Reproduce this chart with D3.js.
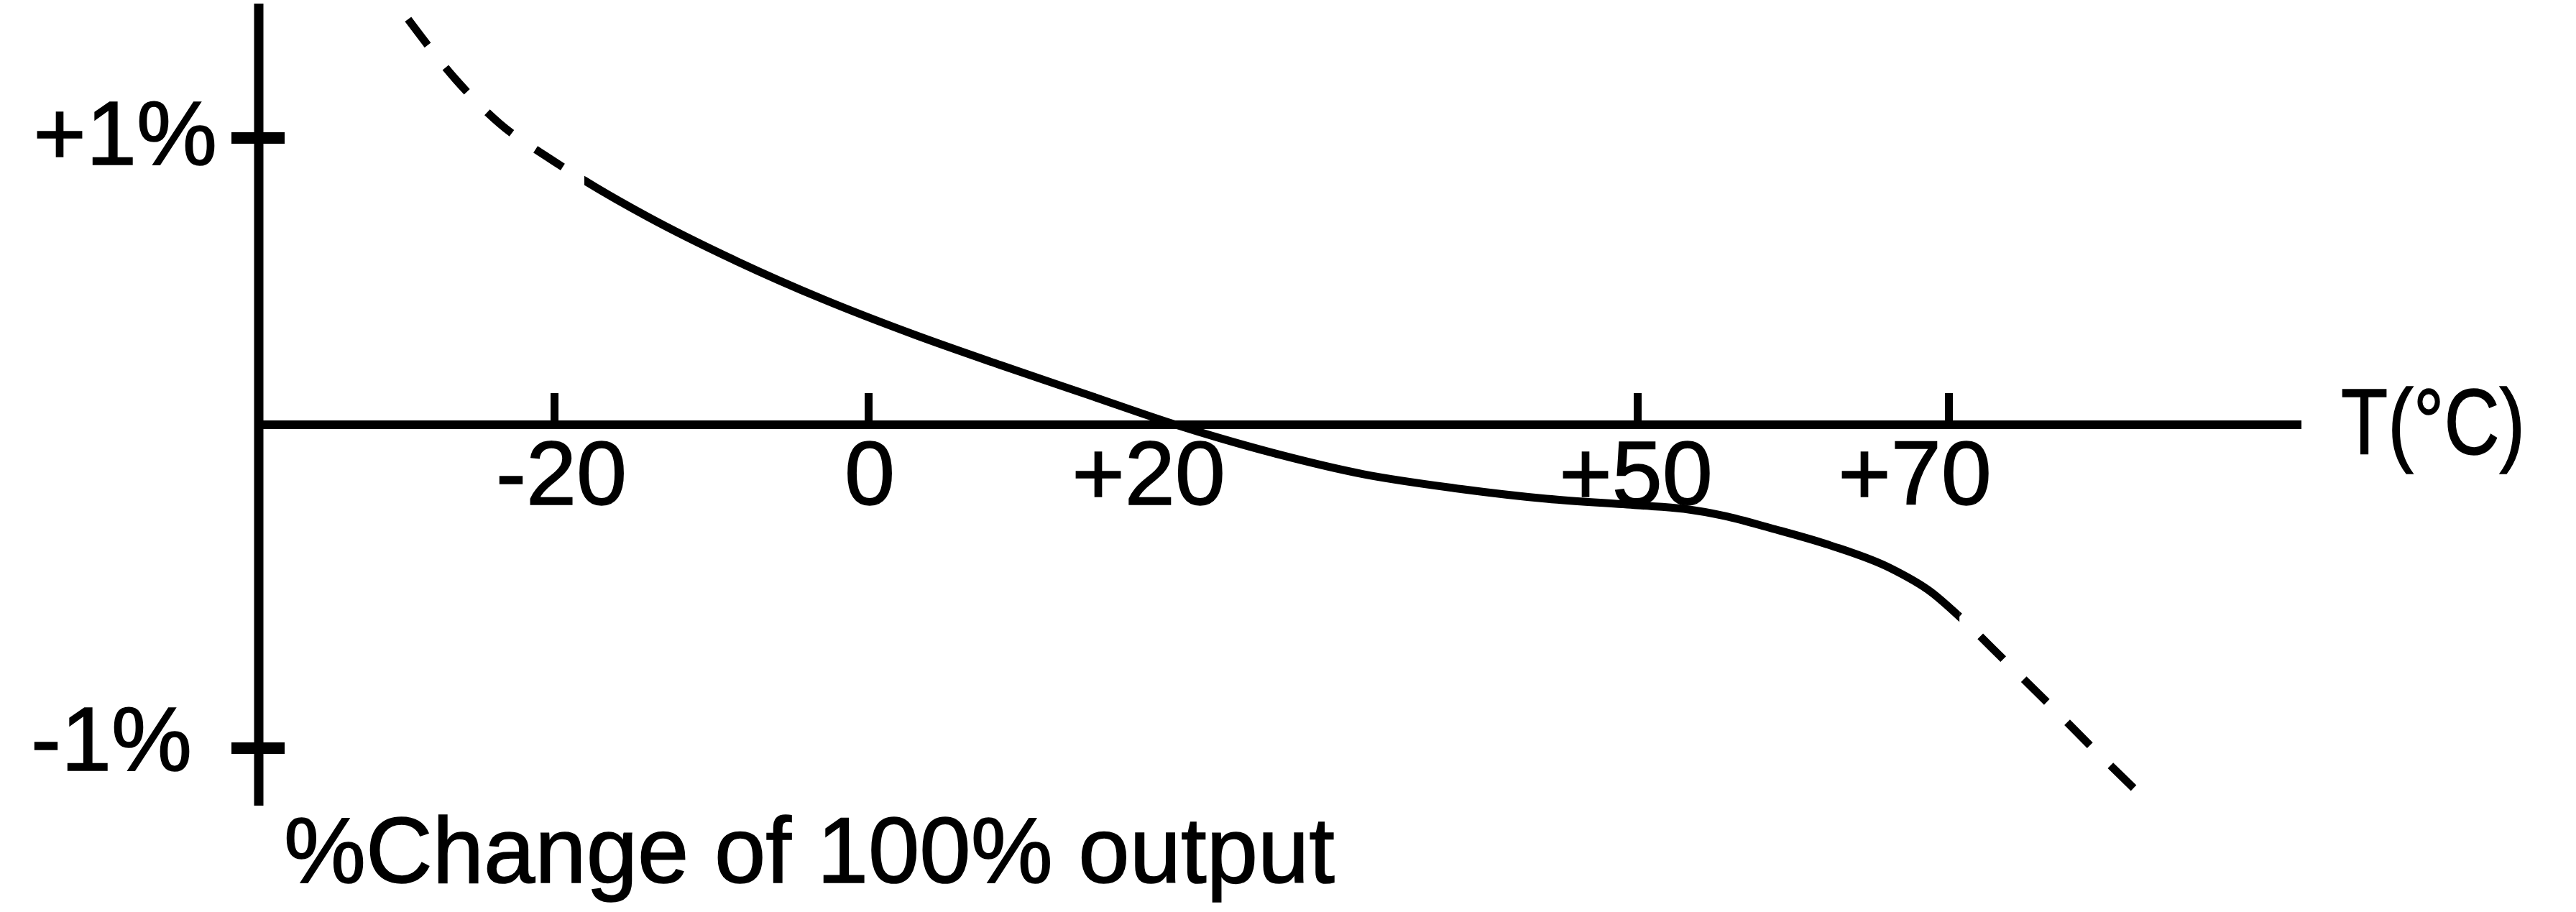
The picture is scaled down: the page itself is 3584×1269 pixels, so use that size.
<!DOCTYPE html>
<html>
<head>
<meta charset="utf-8">
<script src="https://cdn.jsdelivr.net/npm/d3@7"></script>
<style>
  html, body { margin: 0; padding: 0; background: #fff; }
  svg { display: block; }
  text { font-family: "Liberation Sans", Arial, Helvetica, sans-serif; fill: #000; stroke: #000; stroke-width: 1.6px; white-space: pre; }
</style>
</head>
<body>
<script>
// ---- data ----
const xTickValues = [-20, 0, 20, 50, 70];
const xTickLabels = ["-20", "0", "+20", "+50", "+70"];
const xTickMarks  = [-20, 0, 50, 70];          // +20 has no tick mark in the original
const yTickValues = [1, -1];
const yTickLabels = ["+1%", "-1% "];
const xAxisTitle  = "T(°C)";
const yAxisTitle  = "%Change of 100% output";

// dashed extrapolation, cold side
const coldT = [-29.3, -26.25, -23.46, -20.25, -18.08];
const coldV = [1.414, 1.203, 1.050, 0.927, 0.852];
// solid measured region
const solidT = [-18.08, -14.0, -8.4, -2.8, 2.9, 8.6, 14.35, 20.0, 22.9, 26.3, 32.2, 38.1, 44.1, 50.0, 53.0, 55.6, 58.6, 62.4, 66.2, 68.9, 70.7];
const solidV = [0.852, 0.724, 0.571, 0.436, 0.316, 0.208, 0.103, 0.0, -0.042, -0.087, -0.153, -0.196, -0.229, -0.249, -0.260, -0.282, -0.320, -0.373, -0.442, -0.518, -0.593];
// dashed extrapolation, hot side
const hotT = [70.7, 73.65, 76.42, 79.19, 82.06];
const hotV = [-0.593, -0.731, -0.862, -0.996, -1.131];

// ---- layout ----
const W = 3584, H = 1269;
const yAxisX = 360, yAxisTop = 5, yAxisBottom = 1121;
const xAxisRight = 3202;
const dash = 45, gap = 40;

const svg = d3.select("body").append("svg").attr("width", W).attr("height", H);

const x = d3.scaleLinear().domain([-20, 0, 50, 70]).range([771, 1208, 2278, 2711]);
const y = d3.scaleLinear().domain([-1, 0, 1]).range([1041, 591, 192]);

// axes lines
svg.append("line")
  .attr("x1", yAxisX).attr("x2", yAxisX)
  .attr("y1", yAxisTop).attr("y2", yAxisBottom)
  .attr("stroke", "#000").attr("stroke-width", 13);

svg.append("line")
  .attr("x1", yAxisX - 6).attr("x2", xAxisRight)
  .attr("y1", y(0)).attr("y2", y(0))
  .attr("stroke", "#000").attr("stroke-width", 12);

// x ticks (upward)
const xAxis = d3.axisBottom(x).tickValues(xTickMarks).tickSize(-44).tickSizeOuter(0).tickFormat("");
const gx = svg.append("g").attr("transform", `translate(0,${y(0)})`).call(xAxis);
gx.select(".domain").remove();
gx.selectAll(".tick line").attr("stroke", "#000").attr("stroke-width", 11);

// x tick labels (hand-nudged like the original)
const xLabelNudge = { "-20": 10, "0": 2, "20": -38, "50": -2, "70": -47 };
svg.append("g").selectAll("text")
  .data(xTickValues)
  .join("text")
  .attr("x", d => x(d) + xLabelNudge[String(d)])
  .attr("y", 702)
  .attr("text-anchor", "middle")
  .attr("font-size", 126)
  .text((d, i) => xTickLabels[i]);

// y ticks
svg.append("g").selectAll("line")
  .data(yTickValues)
  .join("line")
  .attr("x1", 322).attr("x2", 396)
  .attr("y1", d => y(d)).attr("y2", d => y(d))
  .attr("stroke", "#000").attr("stroke-width", 16);

svg.append("g").selectAll("text")
  .data(yTickValues)
  .join("text")
  .attr("x", 302)
  .attr("y", d => y(d) + (d > 0 ? 37 : 31))
  .attr("text-anchor", "end")
  .attr("font-size", 126)
  .text((d, i) => yTickLabels[i]);

// axis titles
svg.append("text")
  .attr("x", 3257).attr("y", 632)
  .attr("font-size", 130)
  .attr("textLength", 256)
  .attr("lengthAdjust", "spacingAndGlyphs")
  .text(xAxisTitle);

svg.append("text")
  .attr("x", 395).attr("y", 1228)
  .attr("font-size", 130)
  .attr("textLength", 1462)
  .attr("lengthAdjust", "spacingAndGlyphs")
  .text(yAxisTitle);

// curve: one continuous spline, split into solid / dashed parts by clipping
const pts = [];
coldT.forEach((t, i) => pts.push([t, coldV[i]]));
solidT.slice(1).forEach((t, i) => pts.push([t, solidV[i + 1]]));
hotT.slice(1).forEach((t, i) => pts.push([t, hotV[i + 1]]));

const mk = d3.line().x(d => x(d[0])).y(d => y(d[1])).curve(d3.curveMonotoneX);
const xs0 = x(solidT[0]), xs1 = x(solidT[solidT.length - 1]);

const defs = svg.append("defs");
defs.append("clipPath").attr("id", "clipCold").append("rect")
  .attr("x", 0).attr("y", 0).attr("width", xs0).attr("height", H);
defs.append("clipPath").attr("id", "clipSolid").append("rect")
  .attr("x", xs0).attr("y", 0).attr("width", xs1 - xs0).attr("height", H);
defs.append("clipPath").attr("id", "clipHot").append("rect")
  .attr("x", xs1).attr("y", 0).attr("width", W - xs1).attr("height", H);

const solidPath = svg.append("path").attr("d", mk(pts))
  .attr("fill", "none").attr("stroke", "#000").attr("stroke-width", 11)
  .attr("clip-path", "url(#clipSolid)");

// length along the path where the solid part ends
const node = solidPath.node();
const total = node.getTotalLength();
let lo = 0, hi = total;
for (let k = 0; k < 40; k++) {
  const mid = (lo + hi) / 2;
  if (node.getPointAtLength(mid).x < xs1) lo = mid; else hi = mid;
}
const lEnd = lo;
const period = dash + gap;
// pattern position p = (L + offset) mod period; a gap must begin at lEnd (p = dash)
const hotOffset = ((dash - lEnd) % period + period) % period;

svg.append("path").attr("d", mk(pts))
  .attr("fill", "none").attr("stroke", "#000").attr("stroke-width", 11)
  .attr("stroke-dasharray", `${dash} ${gap}`)
  .attr("clip-path", "url(#clipCold)");

svg.append("path").attr("d", mk(pts))
  .attr("fill", "none").attr("stroke", "#000").attr("stroke-width", 11)
  .attr("stroke-dasharray", `${dash} ${gap}`).attr("stroke-dashoffset", hotOffset)
  .attr("clip-path", "url(#clipHot)");
</script>
</body>
</html>
